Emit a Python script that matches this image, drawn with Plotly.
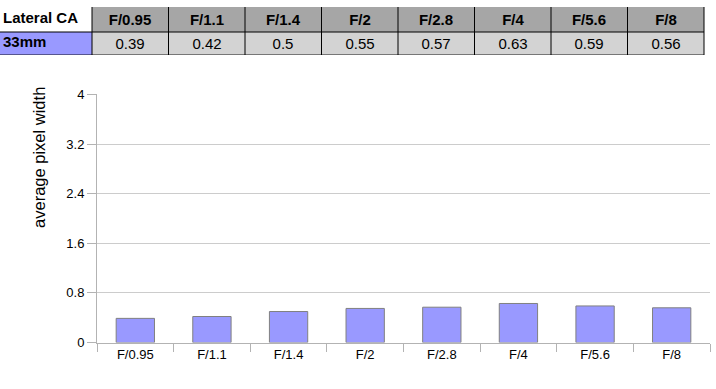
import plotly.graph_objects as go

# ---- data ----
apertures = ["F/0.95", "F/1.1", "F/1.4", "F/2", "F/2.8", "F/4", "F/5.6", "F/8"]
ca_33mm = [0.39, 0.42, 0.5, 0.55, 0.57, 0.63, 0.59, 0.56]
row_label = "33mm"
table_title = "Lateral CA"
y_ticks = [0, 0.8, 1.6, 2.4, 3.2, 4]

# ---- layout constants ----
W, H = 716, 389
font = "Liberation Sans, Arial, sans-serif"
first_col_w, col_w = 92, 76.5
header_h, row_h = 26, 24
n = len(apertures)


def fy(px):
    return 1 - px / H


col_widths = [first_col_w] + [col_w] * n
x_edges = [0]
for w in col_widths:
    x_edges.append(x_edges[-1] + w)
y_edges = [0, header_h, header_h + row_h]
table_w = x_edges[-1]
table_h = y_edges[-1]

fig = go.Figure()

# ---- table drawn as a heatmap (exact pixel-sized cells) ----
z_codes = [[0] + [1] * n, [2] + [3] * n]
cell_text = [[""] + ["<b>%s</b>" % a for a in apertures],
             [""] + [str(v) for v in ca_33mm]]
fig.add_trace(go.Heatmap(
    x=x_edges, y=y_edges, z=z_codes,
    zmin=0, zmax=3,
    colorscale=[[0, "white"], [1 / 3, "#a6a6a6"], [2 / 3, "#9999ff"], [1, "#d3d3d3"]],
    showscale=False,
    text=cell_text, texttemplate="%{text}",
    textfont=dict(family=font, size=15, color="black"),
    hoverinfo="skip",
    xaxis="x2", yaxis="y2",
))
fig.add_trace(go.Scatter(
    x=[3, 3],
    y=[(y_edges[0] + y_edges[1]) / 2, (y_edges[1] + y_edges[2]) / 2],
    text=["<b>%s</b>" % table_title, "<b>%s</b>" % row_label],
    mode="text", textposition="middle right",
    textfont=dict(family=font, size=15, color="black"),
    hoverinfo="skip",
    xaxis="x2", yaxis="y2",
))

shapes = []
for xe in x_edges[1:]:
    shapes.append(dict(type="line", xref="x2", yref="y2", x0=xe, x1=xe, y0=0, y1=table_h,
                       line=dict(color="black", width=1)))
for ye in y_edges[1:]:
    shapes.append(dict(type="line", xref="x2", yref="y2", x0=0, x1=table_w, y0=ye, y1=ye,
                       line=dict(color="black", width=1)))

# ---- bar chart ----
fig.add_trace(go.Bar(
    x=apertures, y=ca_33mm,
    marker=dict(color="#9999ff", line=dict(color="#808080", width=1)),
    hoverinfo="x+y",
    xaxis="x", yaxis="y",
))

fig.update_layout(
    width=W, height=H,
    margin=dict(l=0, r=0, t=0, b=0),
    paper_bgcolor="white", plot_bgcolor="white",
    showlegend=False,
    bargap=0.5,
    font=dict(family=font, color="black"),
    shapes=shapes,
    xaxis=dict(
        domain=[97 / W, 710 / W],
        anchor="y",
        type="category",
        tickson="boundaries",
        ticks="outside", ticklen=8, tickcolor="#b3b3b3",
        showline=True, linecolor="#b3b3b3",
        showgrid=False,
        tickfont=dict(size=13, family=font, color="black"),
    ),
    yaxis=dict(
        domain=[fy(349), fy(91)],
        anchor="x",
        range=[0, 4],
        tickvals=y_ticks,
        ticktext=[("%g" % v) for v in y_ticks],
        ticks="outside", ticklen=9, tickcolor="#b3b3b3",
        showline=True, linecolor="#b3b3b3",
        showgrid=True, gridcolor="#cccccc",
        zeroline=False,
        tickfont=dict(size=13, family=font, color="black"),
    ),
    xaxis2=dict(
        domain=[0, 1], anchor="y2", range=[0, W],
        visible=False, fixedrange=True,
    ),
    yaxis2=dict(
        domain=[fy(table_h), 1], anchor="x2", range=[table_h, 0],
        visible=False, fixedrange=True,
    ),
    annotations=[dict(
        text="average pixel width",
        x=28 / W, y=fy(157), xref="paper", yref="paper",
        textangle=-90, showarrow=False,
        font=dict(size=16.5, family=font, color="black"),
    )],
)

fig.write_html("out.html", post_script="document.body.style.margin='0';",
               config={"displayModeBar": False})
